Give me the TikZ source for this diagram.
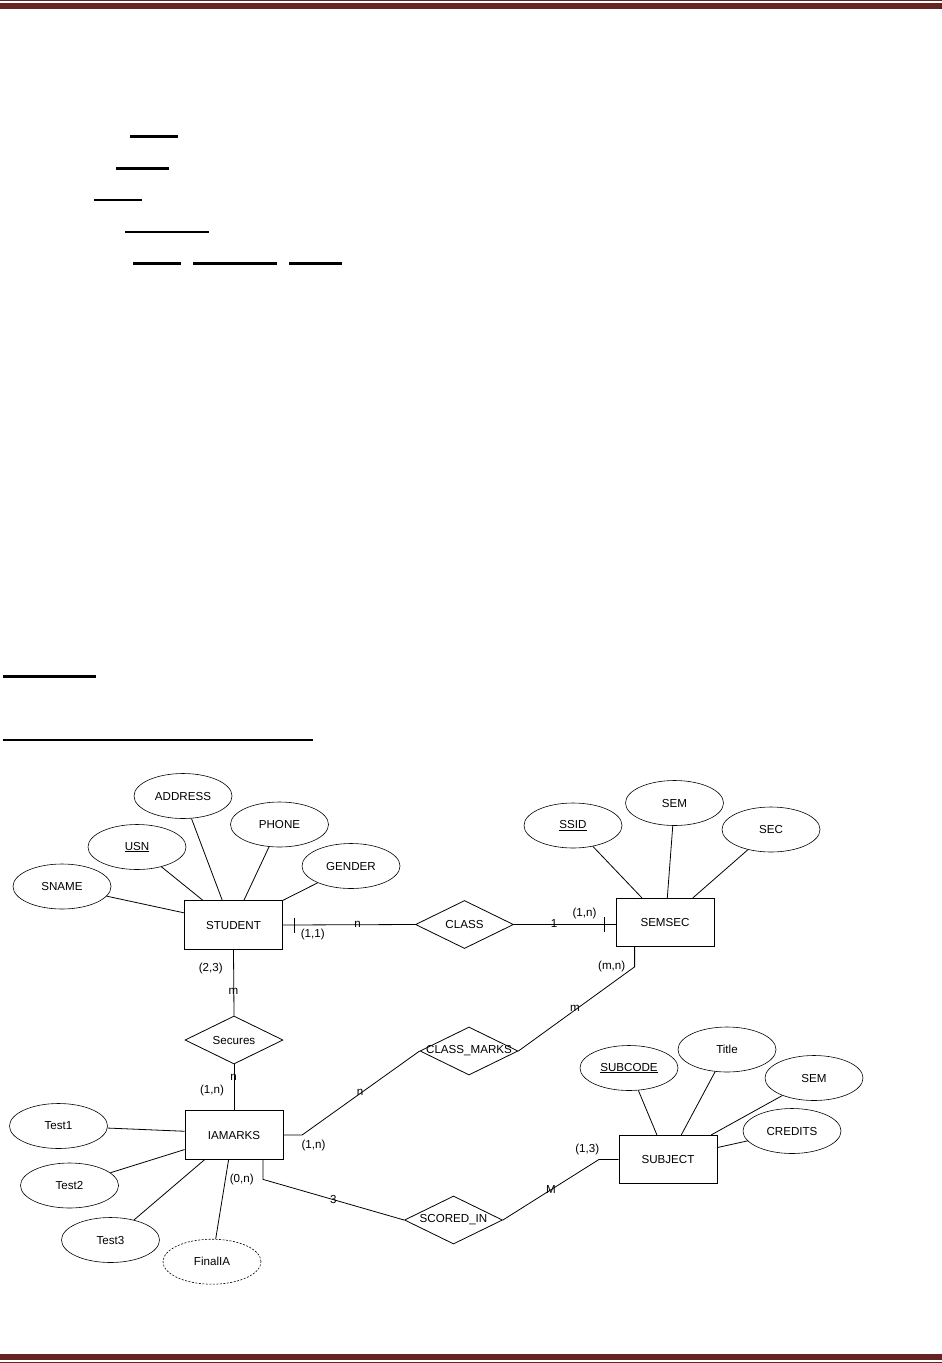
\documentclass[tikz,border=0pt]{standalone}
\usepackage{fontspec}
\setmainfont{Liberation Sans}
\usetikzlibrary{shapes.geometric,calc}
\definecolor{hdr}{RGB}{99,36,35}
\begin{document}
\begin{tikzpicture}[x=1pt,y=-1pt,
  every node/.style={font=\fontsize{11.6}{14}\selectfont, inner sep=0pt},
  ent/.style={draw, rectangle, minimum width=98pt, minimum height=48.5pt, line width=0.8pt},
  attr/.style={draw, ellipse, minimum width=98pt, minimum height=45pt, line width=0.6pt},
  dattr/.style={attr, dash pattern=on 2pt off 1.5pt},
  rel/.style={draw, diamond, minimum width=98pt, minimum height=48pt, line width=0.8pt},
  conn/.style={line width=0.8pt},
  ul/.style={line width=2.4pt}]
\useasboundingbox (0,0) rectangle (942,1363);
% header and footer bars
\fill[hdr] (0,0) rectangle (942,1.4);
\fill[hdr] (0,3) rectangle (942,9);
\fill[hdr] (0,1353.7) rectangle (942,1360);
\fill[hdr] (0,1361.7) rectangle (942,1363);
% underlines
\draw[ul] (130,136.3) -- (178,136.3);
\draw[ul] (116,168.5) -- (169,168.5);
\draw[ul] (94,199.8) -- (142,199.8);
\draw[ul] (125,231.8) -- (209,231.8);
\draw[ul] (133,263.5) -- (181,263.5);
\draw[ul] (193,263.5) -- (277,263.5);
\draw[ul] (289,263.5) -- (342,263.5);
\draw[line width=3.2pt] (2.7,676.3) -- (96,676.3);
\draw[line width=2.7pt] (2.7,740) -- (312.7,740);

% entities
\node[ent] (student) at (233.5,925) {STUDENT};
\node[ent] (semsec) at (665,922.5) {SEMSEC};
\node[ent] (iamarks) at (234,1135) {IAMARKS};
\node[ent] (subject) at (668,1159.5) {SUBJECT};

% relationships
\node[rel] (class) at (464.5,924.5) {};
\node (classtxt) at (class) {CLASS};
\node[rel] (secures) at (234,1040) {};
\node (securestxt) at (secures) {Secures};
\node[rel] (classmarks) at (469,1051) {};
\node (classmarkstxt) at (classmarks) {CLASS\_MARKS};
\node[rel] (scoredin) at (453.5,1220) {};
\node (scoredintxt) at (scoredin) {SCORED\_IN};

% attributes
\node[attr] (sname) at (62,886.5) {SNAME};
\node[attr] (usn) at (137,847) {\underline{USN}};
\node[attr] (address) at (183,796) {ADDRESS};
\node[attr] (phone) at (279.5,824.5) {PHONE};
\node[attr] (gender) at (351,866) {GENDER};
\node[attr] (ssid) at (573,825.5) {\underline{SSID}};
\node[attr] (semA) at (674.5,803) {SEM};
\node[attr] (sec) at (771,829.5) {SEC};
\node[attr] (subcode) at (629,1068) {\underline{SUBCODE}};
\node[attr] (title) at (727,1049.5) {Title};
\node[attr] (semB) at (814,1078) {SEM};
\node[attr] (credits) at (792,1131) {CREDITS};
\node[attr] (test1) at (58.5,1126) {Test1};
\node[attr] (test2) at (69.5,1185.5) {Test2};
\node[attr] (test3) at (110.5,1240) {Test3};
\node[dattr] (finalia) at (212,1261.7) {FinalIA};

% attribute connectors
\draw[conn] (sname) -- ($(student.north west)+(0,12.5)$);
\draw[conn] (usn) -- ($(student.north west)+(18.8,0)$);
\draw[conn] (address) -- ($(student.north west)+(38.2,0)$);
\draw[conn] (phone) -- ($(student.north west)+(59.8,0)$);
\draw[conn] (gender) -- (student.north east);
\draw[conn] (ssid) -- ($(semsec.north west)+(26.3,0)$);
\draw[conn] (semA) -- ($(semsec.north west)+(51.7,0)$);
\draw[conn] (sec) -- ($(semsec.north west)+(77.3,0)$);
\draw[conn] (subcode) -- ($(subject.north west)+(38.3,0)$);
\draw[conn] (title) -- ($(subject.north west)+(62.7,0)$);
\draw[conn] (semB) -- ($(subject.north west)+(92.7,0)$);
\draw[conn] (credits) -- ($(subject.north east)+(0,12.7)$);
\draw[conn] (test1) -- ($(iamarks.north west)+(0,20.9)$);
\draw[conn] (test2) -- ($(iamarks.north west)+(0,39.2)$);
\draw[conn] (test3) -- ($(iamarks.south west)+(20,0)$);
\draw[conn] (finalia) -- ($(iamarks.south west)+(44,0)$);

% relationship connectors
\draw[conn] (student.east) -- (class.west);
\draw[conn] ($(student.east)+(11,-7.5)$) -- ++(0,15);
\draw[conn] (class.east) -- (semsec.west |- class.east);
\draw[conn] ($(semsec.west |- class.east)+(-11.7,-7.5)$) -- ++(0,15);
\draw[conn] (student.south) -- (secures.north);
\draw[conn] (secures.south) -- (iamarks.north);
\draw[conn] ($(semsec.south west)+(19,0)$) -- ++(0,19.7) -- (classmarks.east);
\draw[conn] (classmarks.west) -- ($(iamarks.east)+(18.7,0)$) -- (iamarks.east);
\draw[conn] ($(iamarks.south west)+(78.3,0)$) -- ++(0,19.7) -- (scoredin.west);
\draw[conn] (scoredin.east) -- ($(subject.west)+(-19.7,0)$) -- (subject.west);

% cardinality labels
\node (c11) at (312.7,934.3) {(1,1)};
\node (cn1) at (357.7,924.5) {n};
\node (c1a) at (554,923.5) {1};
\node (c1n) at (584.5,913) {(1,n)};
\node (c23) at (210.7,968.3) {(2,3)};
\node (cm1) at (233.5,991.7) {m};
\node (cn2) at (233.7,1077.3) {n};
\node (c1n2) at (212,1090.7) {(1,n)};
\node (cmn) at (611.7,966) {(m,n)};
\node (cm2) at (575,1008.3) {m};
\node (cn3) at (360,1092.7) {n};
\node (c1n3) at (313.5,1145) {(1,n)};
\node (c0n) at (241.7,1179) {(0,n)};
\node (c3) at (333.3,1199) {3};
\node (cM) at (551,1189.3) {M};
\node (c13) at (587.3,1149.3) {(1,3)};
\end{tikzpicture}
\end{document}
